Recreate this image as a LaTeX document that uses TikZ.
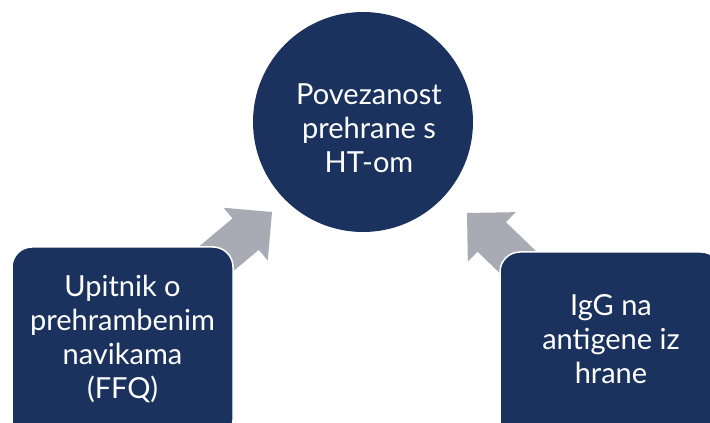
\documentclass[tikz,border=0pt]{standalone}
\usepackage{fontspec}
\setmainfont{Lato}
\definecolor{navy}{RGB}{27,50,94}
\definecolor{arrowgray}{RGB}{168,171,180}
\begin{document}
\begin{tikzpicture}[x=1pt,y=1pt,
  blocktext/.style={text=white,align=center,font=\fontsize{29}{34}\selectfont},
  sidebox/.style={fill=navy,draw=white,line width=1.5pt,rounded corners=20pt,
     minimum width=221pt,minimum height=193pt,inner sep=0pt},
  hub/.style={circle,fill=navy,minimum size=220pt,inner sep=0pt},
  blockarrow/.style={fill=arrowgray}]
\useasboundingbox (0,0) rectangle (710,423);
% arrows (drawn first, partly hidden by the boxes)
\begin{scope}[shift={(272,211)},rotate=40]
  \coordinate (lt) at (0,0);
  \fill[blockarrow] (lt) -- (-34.4,34.4) -- (-34.4,20.5) -- (-130,20.5) -- (-130,-20.5) -- (-34.4,-20.5) -- (-34.4,-34.4) -- cycle;
\end{scope}
\begin{scope}[shift={(467,210)},rotate=136]
  \coordinate (rt) at (0,0);
  \fill[blockarrow] (rt) -- (-34.4,34.4) -- (-34.4,20.5) -- (-130,20.5) -- (-130,-20.5) -- (-34.4,-20.5) -- (-34.4,-34.4) -- cycle;
\end{scope}
\node[hub] (hub) at (363,301) {};
\node[blocktext] (hubtext) at (369,294.5) {Povezanost\\prehrane s\\HT-om};
\node[sidebox] (left) at (122.5,79.5) {};
\node[blocktext] (lefttext) at (122.5,84) {Upitnik o\\prehrambenim\\navikama\\(FFQ)};
\node[sidebox] (right) at (610.5,74.5) {};
\node[blocktext] (righttext) at (611,83.5) {IgG na\\antigene iz\\hrane};
\end{tikzpicture}
\end{document}
